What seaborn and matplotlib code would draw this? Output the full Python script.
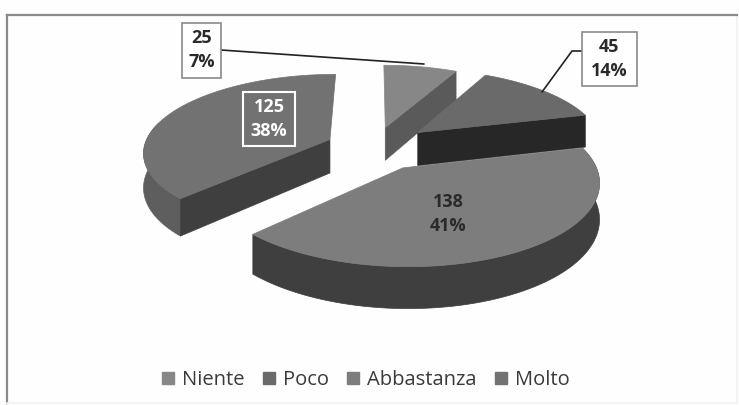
import numpy as np
import matplotlib
matplotlib.use('Agg')
import matplotlib.pyplot as plt
from matplotlib.patches import Patch, Rectangle
import seaborn as sns

categories = ['Niente', 'Poco', 'Abbastanza', 'Molto']
values = [25, 45, 138, 125]
percents = ['7%', '14%', '41%', '38%']

# grigi: faccia sopra, bordo, taglio
top_col = ['#878787', '#6a6a6a', '#7d7d7d', '#727272']
rim_col = ['#5f5f5f', '#3c3c3c', '#3f3f3f', '#5e5e5e']
cut_col = ['#5a5a5a', '#272727', '#333333', '#3f3f3f']
explode = [0.27, 0.31, 0.30, 0.26]
# quale taglio radiale si vede (0 = inizio fetta, 1 = fine fetta)
visible_cut = [1, 1, None, 0]

# vista prospettica della torta
cx, cy = 374, 147
f, fc, k = 186, 77, 0.15
depth = 34


def proj(x, y, drop=0):
    d = 1 + k * y
    return cx + f * x / d, cy - fc * y / d + drop / d


sns.set_theme(style='white')
plt.rcParams['font.family'] = ['Open Sans', 'DejaVu Sans']

fig = plt.figure(figsize=(7.39, 4.05), dpi=100, facecolor='#fefefe')
L, R, T, B = 7, 737, 15, 403
ax = fig.add_axes([L / 739, 1 - B / 405, (R - L) / 739, (B - T) / 405], facecolor='#fefefe')
ax.set_xlim(L, R)
ax.set_ylim(B, T)
ax.set_xticks([])
ax.set_yticks([])
for name, s in ax.spines.items():
    if name in ('left', 'top'):
        s.set_color('#8a8a8a')
        s.set_linewidth(1.6)
    else:
        s.set_color('#f2f2f2')

edges = np.cumsum([0] + values) / sum(values) * 2 * np.pi
for i in [0, 1, 3, 2]:
    a0, a1 = edges[i], edges[i + 1]
    mid = (a0 + a1) / 2
    ox, oy = explode[i] * np.sin(mid), explode[i] * np.cos(mid)
    t = np.linspace(a0, a1, 80)
    rx, ry = ox + np.sin(t), oy + np.cos(t)

    # bordo esterno, solo la parte rivolta in avanti
    front = np.cos(t) < 0.25
    if front.sum() > 1:
        x1, y1 = proj(rx[front], ry[front])
        x2, y2 = proj(rx[front], ry[front], depth)
        ax.fill(np.r_[x1, x2[::-1]], np.r_[y1, y2[::-1]], color=rim_col[i], lw=0.5)

    # taglio radiale
    if visible_cut[i] is not None:
        a = (a0, a1)[visible_cut[i]]
        sx = np.linspace(ox, ox + np.sin(a), 20)
        sy = np.linspace(oy, oy + np.cos(a), 20)
        x1, y1 = proj(sx, sy)
        x2, y2 = proj(sx, sy, depth)
        ax.fill(np.r_[x1, x2[::-1]], np.r_[y1, y2[::-1]], color=cut_col[i], lw=0.5)

    # faccia superiore
    px, py = proj(np.r_[ox, rx], np.r_[oy, ry])
    ax.fill(px, py, color=top_col[i], lw=0.5)

ax.plot([221, 424], [50, 64], color='#222222', lw=1.2)
ax.plot([582, 572, 542], [51, 51, 92], color='#222222', lw=1.2)

ax.add_patch(Rectangle((182, 23), 39, 55, fc='white', ec='#8a8a8a', lw=1.2, zorder=3))
ax.add_patch(Rectangle((582, 32), 55, 54, fc='white', ec='#8a8a8a', lw=1.2, zorder=3))
ax.add_patch(Rectangle((243, 92), 52, 54, fc='none', ec='white', lw=1.5, zorder=3))

bold = dict(fontsize=13, fontweight='bold', ha='center', va='center', linespacing=1.45, zorder=4)
ax.text(202, 50, f'{values[0]}\n{percents[0]}', color='#2a2a2a', **bold)
ax.text(609, 59, f'{values[1]}\n{percents[1]}', color='#2a2a2a', **bold)
ax.text(269, 119, f'{values[3]}\n{percents[3]}', color='white', **bold)
ax.text(448, 214, f'{values[2]}\n{percents[2]}', color='#2a2a2a', **bold)

handles = [Patch(color=c) for c in top_col]
ax.legend(handles, categories, ncol=4, frameon=False, fontsize=14.5,
          loc='center', bbox_to_anchor=(366, 380), bbox_transform=ax.transData,
          handlelength=0.6, handleheight=0.6, handletextpad=0.4, columnspacing=0.9,
          labelcolor='#3a3a3a')

fig.savefig('out.png', dpi=100, facecolor=fig.get_facecolor())
